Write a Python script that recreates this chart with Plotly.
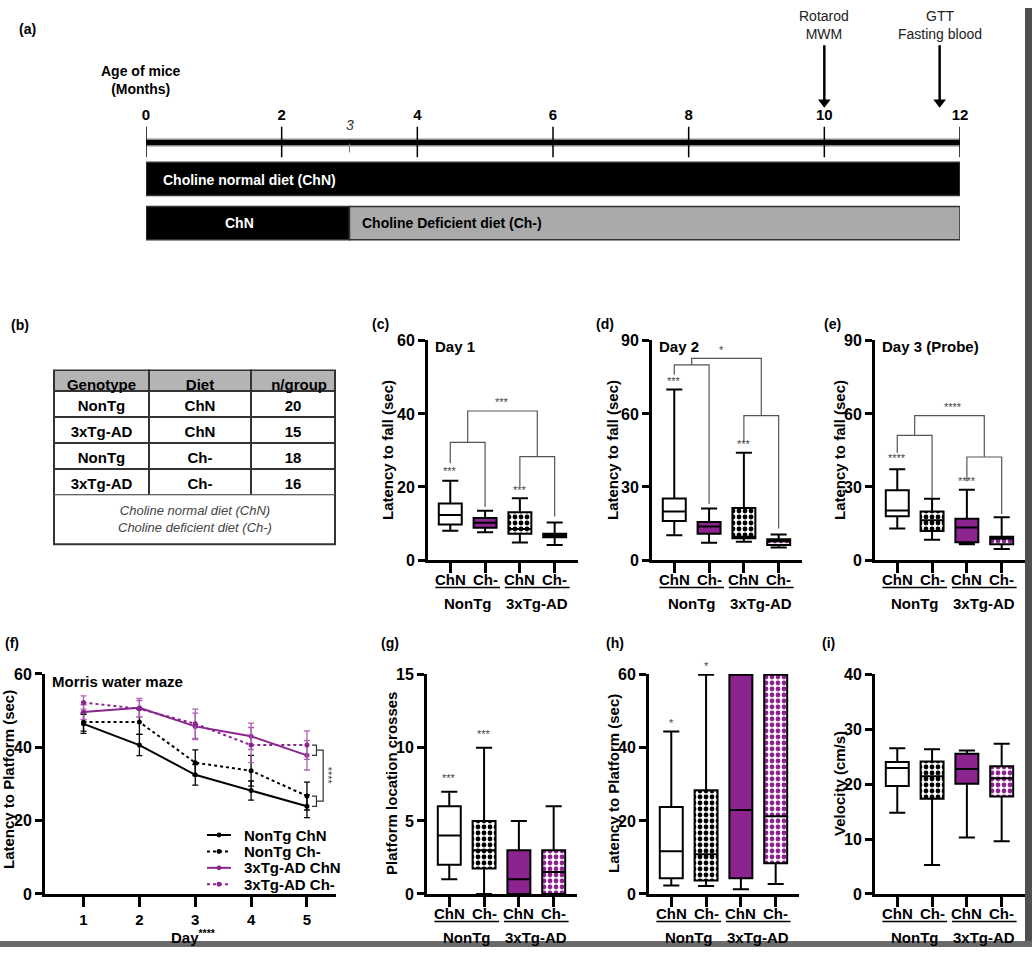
import plotly.graph_objects as go

W, H = 1032, 956
def X(px): return px / W
def Y(py): return 1 - py / H

PURPLE = '#8c2490'
FONT = 'Liberation Sans, Arial, sans-serif'

# ---------------- DATA ----------------
months = [0, 2, 4, 6, 8, 10, 12]
minor_month = 3
event_months = [10, 11.7]
event_labels = ['Rotarod<br>MWM', 'GTT<br>Fasting blood']
diet_row1 = [(0, 12, 'black', 'Choline normal diet (ChN)')]
diet_row2 = [(0, 3, 'black', 'ChN'), (3, 12, '#aaaaaa', 'Choline Deficient diet (Ch-)')]

genotype = ['NonTg', '3xTg-AD', 'NonTg', '3xTg-AD']
diet = ['ChN', 'ChN', 'Ch-', 'Ch-']
n_group = [20, 15, 18, 16]
table_note = 'Choline normal diet (ChN)<br>Choline deficient diet (Ch-)'

diet_ticks = ['ChN', 'Ch-', 'ChN', 'Ch-']
genotype_groups = ['NonTg', '3xTg-AD']

c_lo = [8.0, 7.6, 4.8, 4.1]
c_q1 = [9.7, 8.8, 7.2, 6.2]
c_med = [12.3, 10.2, 8.5, 6.8]
c_q3 = [15.5, 11.5, 13.1, 7.2]
c_hi = [21.7, 13.5, 16.9, 10.3]
d_lo = [10.2, 7.1, 7.5, 5.1]
d_q1 = [16.0, 10.8, 8.9, 6.2]
d_med = [19.9, 13.8, 9.6, 7.7]
d_q3 = [25.3, 15.6, 21.4, 8.5]
d_hi = [70.0, 21.2, 44.1, 10.5]
e_lo = [12.9, 8.3, 6.5, 4.5]
e_q1 = [18.0, 11.9, 7.3, 6.5]
e_med = [20.3, 16.3, 13.3, 8.7]
e_q3 = [28.7, 19.9, 16.9, 9.6]
e_hi = [37.3, 25.2, 28.9, 17.6]
days = [1, 2, 3, 4, 5]
ntg_chn = [46.4, 40.6, 32.5, 28.2, 23.9]
ntg_chn_err = [2.6, 2.9, 2.8, 2.6, 3.1]
ntg_chm = [46.9, 46.9, 35.8, 33.6, 26.7]
ntg_chm_err = [2.5, 3.4, 3.5, 4.2, 3.8]
tg_chn = [49.6, 50.8, 45.7, 43.0, 37.8]
tg_chn_err = [2.0, 2.5, 3.6, 3.6, 4.0]
tg_chm = [52.2, 50.5, 46.4, 40.6, 40.6]
tg_chm_err = [1.8, 2.2, 4.0, 4.8, 3.9]
g_lo = [1, 0, 0, 0]
g_q1 = [2, 1.75, 0, 0]
g_med = [4, 3, 1, 1.5]
g_q3 = [6, 5, 3, 3]
g_hi = [7, 10, 5, 6]
h_lo = [2.3, 2.2, 1.3, 2.7]
h_q1 = [4.3, 3.7, 4.3, 8.4]
h_med = [11.7, 10.9, 23.0, 21.3]
h_q3 = [23.8, 28.4, 60, 60]
h_hi = [44.5, 60, 60, 60]
i_lo = [14.8, 5.3, 10.3, 9.6]
i_q1 = [19.7, 17.4, 20.1, 17.8]
i_med = [23.0, 21.5, 22.8, 21.1]
i_q3 = [24.1, 24.2, 25.6, 23.3]
i_hi = [26.6, 26.4, 26.2, 27.4]

# ---------------- FIGURE ----------------
fig = go.Figure()
annotations = []
shapes = []
layout = {}

def bold(size):
    return dict(family=FONT, size=size, color='black', weight='bold')

def ann(x, y, text, xref='paper', yref='paper', size=15, b=True, color='black',
        xanchor='center', yanchor='middle', angle=0, italic=False):
    f = dict(family=FONT, size=size, color=color)
    if b:
        f['weight'] = 'bold'
    if italic:
        f['style'] = 'italic'
    annotations.append(dict(x=x, y=y, xref=xref, yref=yref, text=text, showarrow=False,
                            font=f, xanchor=xanchor, yanchor=yanchor, textangle=angle))

# ---- (a) timeline ----
layout['xaxis'] = dict(domain=[X(146), X(960)], range=[0, 12], visible=False, fixedrange=True)
layout['yaxis'] = dict(domain=[Y(240), Y(0)], range=[240, 0], visible=False, fixedrange=True)

for row_y, row in [(174, diet_row1), (219, diet_row2)]:
    for s, e, col, lab in row:
        fig.add_trace(go.Bar(orientation='h', y=[row_y], x=[e - s], base=[s], width=[34],
                             marker=dict(color=col, line=dict(color='#333', width=1.5)),
                             xaxis='x', yaxis='y', showlegend=False, hoverinfo='skip'))
ann(0.22, 175, diet_row1[0][3], xref='x', yref='y', size=14, color='white', xanchor='left')
ann(1.38, 219, diet_row2[0][3], xref='x', yref='y', size=14, color='white')
ann(3.15, 219, diet_row2[1][3], xref='x', yref='y', size=14, color='black', xanchor='left')

fig.add_trace(go.Scatter(x=[0, 12], y=[137, 137], mode='lines', line=dict(color='#888', width=8),
                         xaxis='x', yaxis='y', showlegend=False, hoverinfo='skip', cliponaxis=False))
fig.add_trace(go.Scatter(x=[0, 12], y=[137, 137], mode='lines', line=dict(color='black', width=5),
                         xaxis='x', yaxis='y', showlegend=False, hoverinfo='skip', cliponaxis=False))
tx, ty = [], []
for m in months:
    tx += [m, m, None]
    ty += [121, 152, None]
fig.add_trace(go.Scatter(x=tx, y=ty, mode='lines', line=dict(color='black', width=1.5),
                         xaxis='x', yaxis='y', showlegend=False, hoverinfo='skip', cliponaxis=False))
fig.add_trace(go.Scatter(x=months, y=[110] * len(months), mode='text', text=[str(m) for m in months],
                         textfont=bold(15), xaxis='x', yaxis='y', showlegend=False, hoverinfo='skip',
                         cliponaxis=False))
fig.add_trace(go.Scatter(x=[minor_month, minor_month], y=[138, 147], mode='lines',
                         line=dict(color='#777', width=1), xaxis='x', yaxis='y', showlegend=False,
                         hoverinfo='skip', cliponaxis=False))
ann(minor_month, 119, str(minor_month), xref='x', yref='y', size=14, b=False, italic=True, color='#333')
ann(X(141), Y(73), 'Age of mice<br>(Months)', size=14)
# event arrows (shaft + head) and labels
ax_, ay_ = [], []
for m in event_months:
    ax_ += [m, m, None]
    ay_ += [38, 94, None]
fig.add_trace(go.Scatter(x=ax_, y=ay_, mode='lines', line=dict(color='black', width=2.5),
                         xaxis='x', yaxis='y', showlegend=False, hoverinfo='skip', cliponaxis=False))
fig.add_trace(go.Scatter(x=event_months, y=[96] * len(event_months), mode='markers',
                         marker=dict(symbol='triangle-down', size=11, color='black'),
                         xaxis='x', yaxis='y', showlegend=False, hoverinfo='skip', cliponaxis=False))
for m, lab in zip(event_months, event_labels):
    ann(m, 17, lab, xref='x', yref='y', size=14, b=False, color='#222')

# ---- (b) table ----
fig.add_trace(go.Table(
    domain=dict(x=[X(54), X(335)], y=[Y(496), Y(369)]),
    columnwidth=[95, 102, 84],
    header=dict(values=['Genotype', 'Diet', 'n/group'], fill_color='#b4b4b4',
                line=dict(color='#333', width=2), height=21, align=['center', 'center', 'right'],
                font=dict(family=FONT, size=15, color='black', weight='bold')),
    cells=dict(values=[genotype, diet, n_group], fill_color='white',
               line=dict(color='#333', width=2), height=26, align='center',
               font=dict(family=FONT, size=15, color='black', weight='bold'))))
shapes.append(dict(type='rect', xref='paper', yref='paper', x0=X(54), x1=X(335), y0=Y(546), y1=Y(495),
                   line=dict(color='#333', width=2), fillcolor='white', layer='below'))
ann(X(195), Y(520), table_note, size=13, b=False, italic=True, color='#444')

# ---- box panels ----
box_w = 0.66
panel_map = {}

def to_paper_y(n, y):
    top_px, bot_px, ymax = panel_map[n]
    return Y(bot_px) + (y / ymax) * (Y(top_px) - Y(bot_px))

def box_panel(n, ax_px, top_px, bot_px, ymax, yticks, lo, q1, med, q3, hi, kinds, ytitle, title_px,
              label=None):
    xa, ya = f'x{n}', f'y{n}'
    panel_map[n] = (top_px, bot_px, ymax)
    layout[f'xaxis{n}'] = dict(domain=[X(ax_px), X(ax_px + 150)], range=[-0.64, 3.67], anchor=ya,
                               tickvals=[0, 1, 2, 3], showticklabels=False, ticks='outside', ticklen=10,
                               tickwidth=3, tickcolor='black', showline=True, linewidth=3,
                               linecolor='black', showgrid=False, zeroline=False, fixedrange=True)
    layout[f'yaxis{n}'] = dict(domain=[Y(bot_px), Y(top_px)], range=[0, ymax * 1.004], anchor=xa,
                               tickvals=yticks, ticks='outside', ticklen=7, tickwidth=3,
                               tickcolor='black', showline=True, linewidth=3, linecolor='black',
                               tickfont=bold(16), showgrid=False, zeroline=False, fixedrange=True)
    for i in range(4):
        kind = kinds[i]
        if kind.startswith('checker'):
            fg = 'black' if kind == 'checker_black' else PURPLE
            fig.add_trace(go.Bar(x=[i], y=[q3[i] - q1[i]], base=[q1[i]], width=[box_w],
                                 marker=dict(color='white', line=dict(width=0),
                                             pattern=dict(shape='.', fgcolor=fg, bgcolor='white',
                                                          fgopacity=1, size=6, solidity=0.5)),
                                 xaxis=xa, yaxis=ya, showlegend=False, hoverinfo='skip'))
            fill = 'rgba(0,0,0,0)'
        elif kind == 'purple':
            fill = PURPLE
        else:
            fill = 'white'
        fig.add_trace(go.Box(x=[i], q1=[q1[i]], median=[med[i]], q3=[q3[i]], lowerfence=[lo[i]],
                             upperfence=[hi[i]], width=box_w, whiskerwidth=0.7, fillcolor=fill,
                             line=dict(color='black', width=2), boxpoints=False, orientation='v',
                             xaxis=xa, yaxis=ya, showlegend=False, hoverinfo='skip'))
    ann(X(title_px), Y((top_px + bot_px) / 2), ytitle, size=15, angle=-90)
    for i, t in enumerate(diet_ticks):
        ann(i, Y(bot_px + 20), t, xref=xa, yref='paper', size=15)
    for gi, g in enumerate(genotype_groups):
        cx = 0.5 + 2 * gi
        ann(cx, Y(bot_px + 44), g, xref=xa, yref='paper', size=15)
        shapes.append(dict(type='line', xref=xa, yref='paper', x0=cx - 0.93, x1=cx + 0.93,
                           y0=Y(bot_px + 28), y1=Y(bot_px + 28),
                           line=dict(color='black', width=1.5)))
    if label:
        ann(X(ax_px + 5), Y(top_px + 7), label, size=15, xanchor='left')
    return xa, ya

def bracket(xa, ya, x0, x1, yl, yr, ytop, color='#555'):
    shapes.append(dict(type='path', xref=xa, yref=ya,
                       path=f'M {x0},{yl} L {x0},{ytop} L {x1},{ytop} L {x1},{yr}',
                       line=dict(color=color, width=1.2)))

def stars(n, x, y, text, size=11):
    ann(x, to_paper_y(n, y), text, xref=f'x{n}', yref='paper', size=size, b=False, color='#444')

xa, ya = box_panel(2, 428, 338, 562, 60, [0, 20, 40, 60], c_lo, c_q1, c_med, c_q3, c_hi,
                   ['white', 'purple', 'checker_black', 'checker_purple'],
                   'Latency to fall (sec)', 388, 'Day 1')
bracket(xa, ya, 0, 1, 26.5, 14.5, 32.2)
bracket(xa, ya, 2, 3, 20.2, 11.9, 28.3)
bracket(xa, ya, 0.5, 2.5, 32.2, 28.3, 40.8)
stars(2, 1.5, 43.2, '***')
stars(2, 0, 24.3, '***')
stars(2, 2, 19.2, '***')

xa, ya = box_panel(3, 652, 338, 562, 90, [0, 30, 60, 90], d_lo, d_q1, d_med, d_q3, d_hi,
                   ['white', 'purple', 'checker_black', 'checker_purple'],
                   'Latency to fall (sec)', 613, 'Day 2')
bracket(xa, ya, 0, 1, 76.1, 23.0, 80.1)
bracket(xa, ya, 2, 3, 48.5, 12.9, 59.3)
bracket(xa, ya, 0.5, 2.5, 80.1, 59.3, 82.8)
stars(3, 1.35, 86.0, '*')
stars(3, 0, 73.2, '***')
stars(3, 2, 47.4, '***')

xa, ya = box_panel(4, 875, 338, 562, 90, [0, 30, 60, 90], e_lo, e_q1, e_med, e_q3, e_hi,
                   ['white', 'checker_black', 'purple', 'checker_purple'],
                   'Latency to fall (sec)', 840, 'Day 3 (Probe)')
bracket(xa, ya, 0, 1, 43.9, 25.6, 51.2)
bracket(xa, ya, 2, 3, 32.3, 18.9, 42.3)
bracket(xa, ya, 0.5, 2.5, 51.2, 42.3, 59.3)
stars(4, 1.6, 62.6, '****')
stars(4, 0, 41.8, '****')
stars(4, 2, 32.2, '****')

box_panel(6, 427, 678, 902, 15, [0, 5, 10, 15], g_lo, g_q1, g_med, g_q3, g_hi,
          ['white', 'checker_black', 'purple', 'checker_purple'],
          'Platform location crosses', 392)
stars(6, 0, 7.9, '***')
stars(6, 1, 10.9, '***')

box_panel(7, 649, 678, 902, 60, [0, 20, 40, 60], h_lo, h_q1, h_med, h_q3, h_hi,
          ['white', 'checker_black', 'purple', 'checker_purple'],
          'Latency to Platform (sec)', 614)
stars(7, 0, 46.6, '*')
stars(7, 1, 62.1, '*')

box_panel(8, 875, 678, 902, 40, [0, 10, 20, 30, 40], i_lo, i_q1, i_med, i_q3, i_hi,
          ['white', 'checker_black', 'purple', 'checker_purple'],
          'Velocity (cm/s)', 840)

# ---- (f) line chart ----
layout['xaxis5'] = dict(domain=[X(45), X(336)], range=[0.31, 5.52], anchor='y5', tickvals=days,
                        ticks='outside', ticklen=10, tickwidth=3, tickcolor='black', showline=True,
                        linewidth=3, linecolor='black', tickfont=bold(15), showgrid=False,
                        zeroline=False, fixedrange=True)
layout['yaxis5'] = dict(domain=[Y(902), Y(678)], range=[0, 60], anchor='x5', tickvals=[0, 20, 40, 60],
                        ticks='outside', ticklen=7, tickwidth=3, tickcolor='black', showline=True,
                        linewidth=3, linecolor='black', tickfont=bold(16), showgrid=False,
                        zeroline=False, fixedrange=True)
series = [
    ('NonTg ChN', ntg_chn, ntg_chn_err, 'black', 'solid', 'black'),
    ('NonTg Ch-', ntg_chm, ntg_chm_err, 'black', 'dot', 'black'),
    ('3xTg-AD ChN', tg_chn, tg_chn_err, PURPLE, 'solid', '#b060b4'),
    ('3xTg-AD Ch-', tg_chm, tg_chm_err, PURPLE, 'dot', '#b060b4'),
]
for name, vals, err, col, dash, ecol in series:
    fig.add_trace(go.Scatter(x=days, y=vals, name=name, mode='lines+markers',
                             line=dict(color=col, width=2, dash=dash),
                             marker=dict(color=col, size=5),
                             error_y=dict(type='data', array=err, visible=True, color=ecol,
                                          thickness=1.3, width=3),
                             xaxis='x5', yaxis='y5', cliponaxis=False, showlegend=False))
for k, (name, vals, err, col, dash, ecol) in enumerate(series):
    ry = 842 + k * 16.7
    shapes.append(dict(type='line', xref='paper', yref='paper', x0=X(207), x1=X(231), y0=Y(ry), y1=Y(ry),
                       line=dict(color=col, width=2, dash=dash)))
    shapes.append(dict(type='circle', xref='paper', yref='paper', x0=X(216.5), x1=X(221.5),
                       y0=Y(ry + 2.5), y1=Y(ry - 2.5), fillcolor=col, line=dict(width=0)))
    ann(X(242), Y(ry), name, size=15, xanchor='left')

shapes.append(dict(type='path', xref='x5', yref='y5',
                   path='M 5.09,40.6 L 5.17,40.6 L 5.17,37.8 L 5.09,37.8', line=dict(color='#333', width=1.2)))
shapes.append(dict(type='path', xref='x5', yref='y5',
                   path='M 5.09,26.7 L 5.17,26.7 L 5.17,23.9 L 5.09,23.9', line=dict(color='#333', width=1.2)))
shapes.append(dict(type='path', xref='x5', yref='y5',
                   path='M 5.17,39.2 L 5.29,39.2 L 5.29,25.3 L 5.17,25.3', line=dict(color='#333', width=1.2)))
ann(5.38, 32.2, '****', xref='x5', yref='y5', size=11, b=False, color='#444', angle=90)
ann(X(50), Y(686), 'Morris water maze', size=15, xanchor='left')
ann(X(8), Y(786), 'Latency to Platform (sec)', size=15, angle=-90)
ann(X(193), Y(945), 'Day<sup>****</sup>', size=15)

for lab, px, py in [('(a)', 27, 21), ('(b)', 20, 323), ('(c)', 380, 322), ('(d)', 605, 322),
                    ('(e)', 832, 322), ('(f)', 12, 646), ('(g)', 390, 646), ('(h)', 615, 646),
                    ('(i)', 828, 646)]:
    ann(X(px), Y(py), lab, size=14)

shapes.append(dict(type='rect', xref='paper', yref='paper', x0=X(1025), x1=1, y0=0, y1=1,
                   fillcolor='#4f4f4f', line=dict(width=0), layer='above'))
shapes.append(dict(type='rect', xref='paper', yref='paper', x0=0, x1=1, y0=0, y1=Y(950),
                   fillcolor='#6a6a6a', line=dict(width=0), layer='above'))

fig.update_layout(
    width=W, height=H, margin=dict(l=0, r=0, t=0, b=0), paper_bgcolor='white', plot_bgcolor='white',
    barmode='overlay', boxmode='overlay', font=dict(family=FONT, color='black'),
    showlegend=False,
    annotations=annotations, shapes=shapes, **layout)

fig.write_html('out.html', post_script="document.body.style.margin='0';",
               config={'displayModeBar': False})
